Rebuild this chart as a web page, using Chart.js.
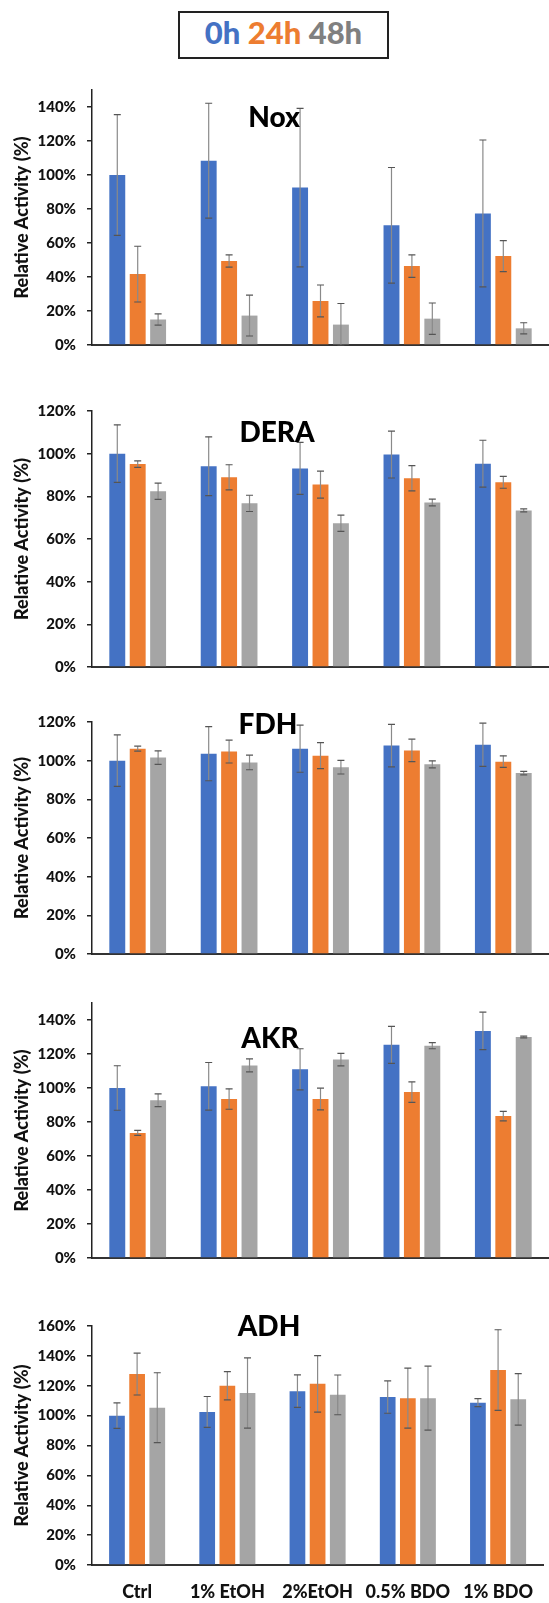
<!DOCTYPE html>
<html>
<head>
<meta charset="utf-8">
<script src="https://cdn.jsdelivr.net/npm/chart.js@4.4.1/dist/chart.umd.min.js"></script>
<style>
  body { margin: 0; background: #fff; }
  #wrap { position: relative; width: 549px; height: 1603px; overflow: hidden; }
  canvas { position: absolute; left: 0; }
  #legend {
    position: absolute; left: 178px; top: 11px; width: 207px; height: 44px;
    border: 2px solid #222; text-align: center; line-height: 44px;
    font: 900 31px Lato, sans-serif;
  }
</style>
</head>
<body>
<div id="wrap">
  <div id="legend"><span style="color:#4472C4">0h</span> <span style="color:#ED7D31">24h</span> <span style="color:#808080">48h</span></div>
</div>
<script>
const categories = ['Ctrl', '1% EtOH', '2%EtOH', '0.5% BDO', '1% BDO'];
const seriesNames = ['0h', '24h', '48h'];
const seriesColors = ['#4472C4', '#ED7D31', '#A5A5A5'];

// mean values per series (0h, 24h, 48h), % relative activity
const noxMean = [[100, 108.4, 92.6, 70.4, 77.4], [41.7, 49.4, 25.9, 46.4, 52.3], [15.0, 17.3, 12.0, 15.5, 9.8]];
const noxErr  = [[35.5, 33.8, 46.6, 34.0, 43.2], [16.4, 3.6, 9.4, 6.6, 9.1], [3.3, 12.0, 12.4, 9.2, 3.3]];

const deraMean = [[100, 94.1, 93.1, 99.6, 95.3], [95.1, 88.9, 85.5, 88.5, 86.6], [82.4, 76.7, 67.4, 77.1, 73.4]];
const deraErr  = [[13.5, 13.8, 12.2, 11.0, 11.0], [1.5, 5.9, 6.3, 5.9, 2.8], [3.8, 3.8, 3.8, 1.6, 0.7]];

const fdhMean = [[100, 103.6, 106.2, 107.8, 108.2], [106.2, 104.7, 102.6, 105.3, 99.5], [101.6, 99.1, 96.6, 98.1, 93.6]];
const fdhErr  = [[13.3, 14.0, 12.2, 11.0, 11.2], [1.3, 5.9, 6.7, 5.8, 3.0], [3.5, 3.8, 3.5, 1.8, 0.9]];

const akrMean = [[100, 101.0, 111.0, 125.4, 133.6], [73.6, 93.5, 93.5, 97.6, 83.5], [92.8, 113.3, 116.7, 124.9, 130.0]];
const akrErr  = [[13.1, 14.0, 12.1, 10.9, 11.0], [1.5, 6.0, 6.4, 6.0, 2.8], [3.7, 3.8, 3.7, 1.8, 0.5]];

const adhMean = [[100, 102.5, 116.4, 112.4, 108.7], [127.8, 120.0, 121.3, 111.7, 130.5], [105.3, 115.1, 113.9, 111.7, 110.9]];
const adhErr  = [[8.5, 10.3, 10.9, 10.8, 2.7], [14.0, 9.5, 18.9, 20.1, 27.0], [23.4, 23.5, 13.3, 21.4, 17.2]];

const panels = [
  { name: 'Nox',  mean: noxMean,  err: noxErr,  max: 150, top: 80,   bottom: 361,  tx: 274, ty: 28 },
  { name: 'DERA', mean: deraMean, err: deraErr, max: 120, top: 401,  bottom: 683,  tx: 277, ty: 22 },
  { name: 'FDH',  mean: fdhMean,  err: fdhErr,  max: 120, top: 712,  bottom: 970,  tx: 268, ty: 3 },
  { name: 'AKR',  mean: akrMean,  err: akrErr,  max: 150, top: 993,  bottom: 1274, tx: 270, ty: 36 },
  { name: 'ADH',  mean: adhMean,  err: adhErr,  max: 160, top: 1316, bottom: 1565, tx: 269, ty: 1 }
];

const errorBars = {
  id: 'errorBars',
  afterDatasetsDraw(chart) {
    const ctx = chart.ctx;
    const y = chart.scales.y;
    ctx.save();
    chart.data.datasets.forEach((ds, i) => {
      chart.getDatasetMeta(i).data.forEach((bar, j) => {
        const v = ds.data[j], e = ds.errors[j];
        const yt = y.getPixelForValue(v + e);
        const yb = y.getPixelForValue(Math.max(0, v - e));
        ctx.lineWidth = 1.2;
        ctx.strokeStyle = '#8a8a8a';
        ctx.beginPath();
        ctx.moveTo(bar.x, yt); ctx.lineTo(bar.x, yb);
        ctx.stroke();
        ctx.strokeStyle = '#555';
        ctx.beginPath();
        ctx.moveTo(bar.x - 3.5, yt); ctx.lineTo(bar.x + 3.5, yt);
        ctx.moveTo(bar.x - 3.5, yb); ctx.lineTo(bar.x + 3.5, yb);
        ctx.stroke();
      });
    });
    ctx.restore();
  }
};

const panelTitle = {
  id: 'panelTitle',
  afterDraw(chart, args, opts) {
    const ctx = chart.ctx;
    ctx.save();
    ctx.font = '900 28px Lato, sans-serif';
    ctx.fillStyle = '#000';
    ctx.textAlign = 'center';
    ctx.textBaseline = 'middle';
    ctx.fillText(opts.text, opts.x, chart.chartArea.top + opts.dy);
    ctx.restore();
  }
};

const wrap = document.getElementById('wrap');
const padTop = 10;

panels.forEach((p, idx) => {
  const isLast = idx === panels.length - 1;
  const xh = isLast ? 38 : 4;
  const canvas = document.createElement('canvas');
  canvas.width = 549;
  canvas.height = p.bottom - p.top + padTop + xh;
  canvas.style.top = (p.top - padTop) + 'px';
  wrap.appendChild(canvas);

  new Chart(canvas.getContext('2d'), {
    type: 'bar',
    data: {
      labels: categories,
      datasets: seriesNames.map((s, k) => ({
        label: s,
        data: p.mean[k],
        errors: p.err[k],
        backgroundColor: seriesColors[k],
        categoryPercentage: 0.67,
        barPercentage: 0.78
      }))
    },
    options: {
      responsive: false,
      animation: false,
      devicePixelRatio: 1,
      layout: { padding: { top: padTop, right: 0, left: 0, bottom: 0 } },
      plugins: {
        legend: { display: false },
        tooltip: { enabled: false },
        panelTitle: { text: p.name, x: p.tx, dy: p.ty }
      },
      scales: {
        x: {
          offset: true,
          grid: { display: true, drawOnChartArea: false, drawTicks: false },
          border: { color: '#333', width: 2 },
          ticks: {
            display: isLast,
            color: '#111',
            padding: 16,
            autoSkip: false,
            maxRotation: 0,
            minRotation: 0,
            font: { family: 'Lato', weight: '900', size: 18 }
          },
          afterFit: s => { s.height = xh; }
        },
        y: {
          min: 0,
          max: p.max,
          afterBuildTicks: s => { s.ticks = s.ticks.filter(t => t.value % 20 === 0); },
          afterFit: s => { s.width = 92; },
          ticks: {
            stepSize: 20,
            color: '#111',
            padding: 11,
            callback: v => v + '%',
            font: { family: 'Lato', weight: '900', size: 15 }
          },
          grid: { drawOnChartArea: false, drawTicks: true, tickLength: 5, color: '#222', lineWidth: 1.5 },
          border: { color: '#222', width: 1.5 },
          title: {
            display: true,
            text: 'Relative Activity (%)',
            color: '#111',
            padding: { top: 11, bottom: 0 },
            font: { family: 'Lato', weight: '900', size: 18 }
          }
        }
      }
    },
    plugins: [errorBars, panelTitle]
  });
});
</script>
</body>
</html>
